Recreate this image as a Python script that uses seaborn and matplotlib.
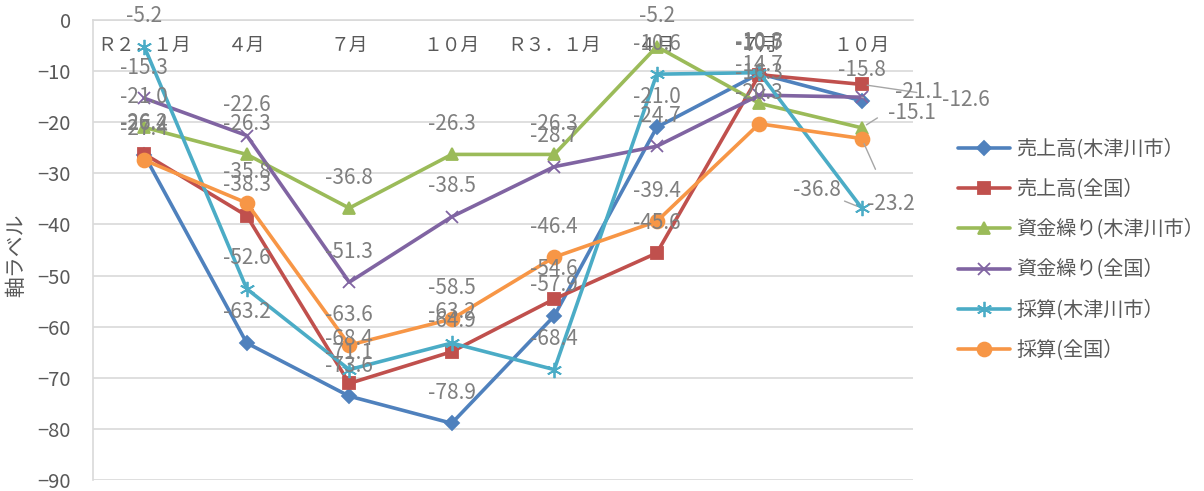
# 景況調査 DI 推移 (木津川市 vs 全国)

import pandas as pd
import numpy as np
import matplotlib.pyplot as plt
import seaborn as sns

# Data

months = ["Ｒ２．１月", "４月", "７月", "１０月", "Ｒ３．１月", "４月", "７月", "１０月"]

series_names = [
    "売上高(木津川市）",
    "売上高(全国）",
    "資金繰り(木津川市）",
    "資金繰り(全国）",
    "採算(木津川市）",
    "採算(全国）",
]

uriage_kizugawa = [-26.4, -63.2, -73.6, -78.9, -57.9, -21.0, -10.5, -15.8]
uriage_zenkoku = [-26.2, -38.3, -71.1, -64.9, -54.6, -45.6, -10.7, -12.6]
shikin_kizugawa = [-21.0, -26.3, -36.8, -26.3, -26.3, -5.2, -16.3, -21.1]
shikin_zenkoku = [-15.3, -22.6, -51.3, -38.5, -28.7, -24.7, -14.7, -15.1]
saisan_kizugawa = [-5.2, -52.6, -68.4, -63.2, -68.4, -10.6, -10.3, -36.8]
saisan_zenkoku = [-27.4, -35.8, -63.6, -58.5, -46.4, -39.4, -20.3, -23.2]

all_values = [uriage_kizugawa, uriage_zenkoku, shikin_kizugawa,
              shikin_zenkoku, saisan_kizugawa, saisan_zenkoku]

rows = []
for name, vals in zip(series_names, all_values):
    for i, v in enumerate(vals):
        rows.append({"series": name, "pos": i, "value": v})
df = pd.DataFrame(rows)

# Style

colors = ["#4F81BD", "#C0504D", "#9BBB59", "#8064A2", "#4BACC6", "#F79646"]
marker_list = ["D", "s", "^", "x", (6, 2, 0), "o"]
marker_sizes = [7, 9, 9, 9, 11, 10]
label_color = "#7f7f7f"
text_color = "#595959"
grid_color = "#d9d9d9"

sns.set_theme(style="white")
plt.rcParams['font.family'] = ['Noto Sans CJK JP', 'DejaVu Sans']

fig = plt.figure(figsize=(12.04, 4.91), dpi=100)
ax = fig.add_axes([93 / 1204, 11 / 491, 820 / 1204, 460 / 491])

sns.lineplot(
    data=df,
    x="pos",
    y="value",
    hue="series",
    hue_order=series_names,
    palette=colors,
    linewidth=2.6,
    sort=False,
    legend=False,
    ax=ax
)

lines = ax.get_lines()[:6]
for line, c, m, ms in zip(lines, colors, marker_list, marker_sizes):
    line.set_marker(m)
    line.set_markersize(ms)
    line.set_markerfacecolor(c)
    line.set_markeredgecolor(c)
    line.set_markeredgewidth(1.3)

# Data labels (last column labels were moved in the original, with leader lines)

last_offsets = {
    1: (75, -11),
    2: (41, 26),
    3: (36, -11.5),
    4: (-32, 13),
    5: (21, -47),
}

for s, vals in enumerate(all_values):
    for i, v in enumerate(vals):
        if i == 7 and s in last_offsets:
            ax.annotate(
                f"{v:.1f}", (i, v),
                xytext=last_offsets[s], textcoords="offset points",
                ha="center", va="center", fontsize=15, color=label_color,
                arrowprops=dict(arrowstyle="-", color="#a6a6a6", lw=1,
                                shrinkA=16, shrinkB=4)
            )
        else:
            ax.annotate(
                f"{v:.1f}", (i, v),
                xytext=(0, 22), textcoords="offset points",
                ha="center", va="center", fontsize=15, color=label_color
            )

# Axes

ax.set_xlim(-0.5, 7.5)
ax.set_ylim(-90, 0)
ax.set_yticks(np.arange(-90, 1, 10))
ax.set_xticks(range(len(months)))
ax.set_xticklabels(months)
ax.xaxis.tick_top()
ax.tick_params(axis="x", length=0, pad=-26, labelsize=13.5, colors=text_color)
ax.tick_params(axis="y", length=0, pad=16, labelsize=14.5, colors=text_color)

ax.set_xlabel("")
ax.set_ylabel("軸ラベル", fontsize=15, color=text_color)
ax.yaxis.set_label_coords(-0.08, 0.489)

ax.grid(axis="y", color=grid_color, linewidth=1.2)
ax.grid(axis="x", visible=False)
for side in ["right", "bottom"]:
    ax.spines[side].set_visible(False)
for side in ["left", "top"]:
    ax.spines[side].set_color(grid_color)
    ax.spines[side].set_linewidth(1.2)

leg = fig.legend(
    handles=lines,
    labels=series_names,
    loc="center left",
    bbox_to_anchor=(0.787, 0.491),
    frameon=False,
    fontsize=14.5,
    handlelength=2.6,
    handletextpad=0.3,
    labelspacing=0.95,
    borderpad=0
)
for t in leg.get_texts():
    t.set_color(text_color)

plt.savefig("out.png", dpi=100)
